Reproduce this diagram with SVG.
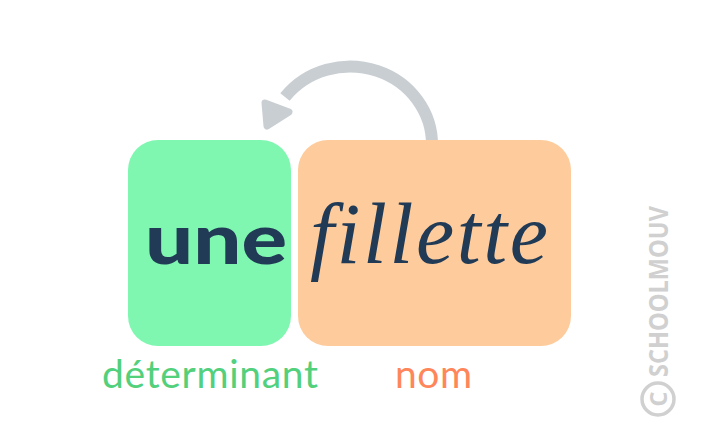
<svg xmlns="http://www.w3.org/2000/svg" width="704" height="444" viewBox="0 0 704 444">
<style>
.word{fill:#213A55}
.lbl{font-family:Lato,"Open Sans","DejaVu Sans",sans-serif;font-size:39px}
.wm{font-family:"Open Sans",sans-serif;font-weight:bold;fill:#D0D0D0}
</style>
<rect width="704" height="444" fill="#ffffff"/>
<g id="connectors">
<path d="M432,146 A82,78 0 0 0 285,97" fill="none" stroke="#C9CED3" stroke-width="12"/>
<polygon points="265,103 289,112 267,126" fill="#C9CED3" stroke="#C9CED3" stroke-width="7" stroke-linejoin="round"/>
</g>
<g id="node-une">
<rect x="128" y="140" width="163" height="206" rx="30" fill="#80F7B1"/>
<text class="word" x="145" y="264" font-family="Lato,'DejaVu Sans',sans-serif" font-weight="900" font-size="70" textLength="142" lengthAdjust="spacingAndGlyphs">une</text>
</g>
<g id="node-fillette">
<rect x="298" y="140" width="273" height="206" rx="30" fill="#FECC9C"/>
<text class="word" x="310" y="263" font-family="'Liberation Serif',serif" font-style="italic" font-size="86" textLength="238" lengthAdjust="spacing">fillette</text>
</g>
<g id="label-determinant">
<text class="lbl" x="102" y="388" fill="#52D07C" textLength="216">déterminant</text>
</g>
<g id="label-nom">
<text class="lbl" x="395" y="388" fill="#FF865A" textLength="77">nom</text>
</g>
<g id="watermark">
<circle cx="658" cy="399" r="16" fill="none" stroke="#D0D0D0" stroke-width="3.5"/>
<text class="wm" x="658" y="408" text-anchor="middle" font-size="24" transform="rotate(-90 658 399)">C</text>
<text class="wm" transform="translate(668,377) rotate(-90)" font-size="26" textLength="171" lengthAdjust="spacingAndGlyphs">SCHOOLMOUV</text>
</g>
</svg>
